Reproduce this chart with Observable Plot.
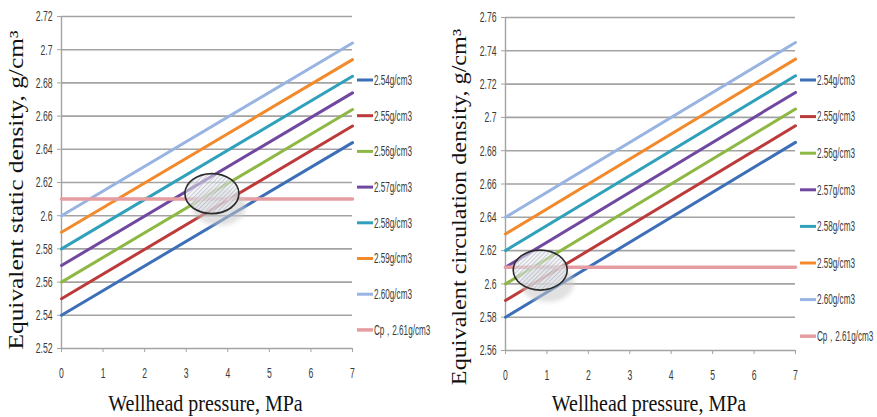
<!DOCTYPE html>
<html><head><meta charset="utf-8">
<script src="https://cdn.jsdelivr.net/npm/d3@7"></script>
<script src="https://cdn.jsdelivr.net/npm/@observablehq/plot@0.6"></script>
<style>
html,body{margin:0;padding:0;background:#fff;}
#wrap{position:relative;width:877px;height:417px;overflow:hidden;background:#fff;}
#left,#right{position:absolute;top:0;}
#left{left:0;}
#right{left:440px;}
</style></head><body>
<div id="wrap"><div id="left"></div><div id="right"></div></div>
<script>
// ---------- data ----------
const pressureEnds = [0, 7];
const seriesNames = ["2.54g/cm3", "2.55g/cm3", "2.56g/cm3", "2.57g/cm3", "2.58g/cm3", "2.59g/cm3", "2.60g/cm3"];
const seriesColors = ["#3d6fb8", "#bd3a3a", "#8db843", "#7048a0", "#30a0bb", "#f28a2c", "#98b4e2"];
const staticStart = [2.54, 2.55, 2.56, 2.57, 2.58, 2.59, 2.60];
const staticEnd = [2.644, 2.654, 2.664, 2.674, 2.684, 2.694, 2.704];
const circStart = [2.58, 2.59, 2.60, 2.61, 2.62, 2.63, 2.64];
const circEnd = [2.685, 2.695, 2.705, 2.715, 2.725, 2.735, 2.745];
const cpName = "Cp，2.61g/cm3";
const cpValue = 2.61;
const cpColor = "#e59da1";
const xTicks = [0, 1, 2, 3, 4, 5, 6, 7];
const yTicksStatic = [2.52, 2.54, 2.56, 2.58, 2.60, 2.62, 2.64, 2.66, 2.68, 2.70, 2.72];
const yTicksCirc = [2.56, 2.58, 2.60, 2.62, 2.64, 2.66, 2.68, 2.70, 2.72, 2.74, 2.76];
const xTitle = "Wellhead pressure, MPa";
const yTitleStatic = "Equivalent static density, g/cm³";
const yTitleCirc = "Equivalent circulation density, g/cm³";
const markStatic = [3.63, 2.613];   // highlighted intersection (MPa, g/cm3)
const markCirc = [0.85, 2.608];

const GRID = "#a3a3a3";
const TICKFONT = "'Liberation Sans Narrow', 'Arial Narrow', 'Liberation Sans', sans-serif";
const SERIF = "'Liberation Serif', 'Times New Roman', serif";

function rowsFor(start, end) {
  const rows = [];
  seriesNames.forEach((n, i) => {
    rows.push({name: n, p: pressureEnds[0], d: start[i]});
    rows.push({name: n, p: pressureEnds[1], d: end[i]});
  });
  return rows;
}
const cpRows = pressureEnds.map(p => ({name: cpName, p, d: cpValue}));

function fmt(d) { return String(+d.toFixed(2)); }

function ellipseMark(center, id) {
  return (index, scales, values, dims) => {
    const sx = scales.x, sy = scales.y;
    const cx = sx(center[0]), cy = sy(center[1]);
    const g = d3.create("svg:g");
    const defs = g.append("defs");
    const pat = defs.append("pattern").attr("id", id).attr("patternUnits", "userSpaceOnUse")
      .attr("width", 3).attr("height", 3).attr("patternTransform", "rotate(45)");
    pat.append("rect").attr("width", 3).attr("height", 3).attr("fill", "#e9ecf2").attr("fill-opacity", 0.55);
    pat.append("line").attr("x1", 0).attr("y1", 0).attr("x2", 0).attr("y2", 3)
      .attr("stroke", "#9aa0ad").attr("stroke-width", 1.2).attr("stroke-opacity", 0.8);
    const blur = defs.append("filter").attr("id", id + "b").attr("x", "-50%").attr("y", "-50%").attr("width", "200%").attr("height", "200%");
    blur.append("feGaussianBlur").attr("stdDeviation", 2);
    g.append("ellipse").attr("cx", cx + 7).attr("cy", cy + 13).attr("rx", 27).attr("ry", 19)
      .attr("fill", "#c8c8c8").attr("fill-opacity", 0.55).attr("filter", `url(#${id}b)`);
    g.append("ellipse").attr("cx", cx).attr("cy", cy).attr("rx", 27).attr("ry", 20)
      .attr("fill", `url(#${id})`).attr("stroke", "#2b2b2b").attr("stroke-width", 1.6);
    return g.node();
  };
}

function legendMark(x0, y0, step) {
  return () => {
    const g = d3.create("svg:g");
    const names = [...seriesNames, cpName];
    const colors = [...seriesColors, cpColor];
    names.forEach((n, i) => {
      const y = y0 + i * step;
      g.append("line").attr("x1", x0).attr("x2", x0 + 16).attr("y1", y).attr("y2", y)
        .attr("stroke", colors[i]).attr("stroke-width", i === names.length - 1 ? 3.5 : 3);
      g.append("text").attr("text-anchor", "start")
        .attr("transform", `translate(${x0 + 17},${y}) scale(0.74,1.25)`).attr("dy", "0.35em")
        .attr("font-family", TICKFONT).attr("font-size", 11).attr("fill", "#3a3a3a").text(n);
    });
    return g.node();
  };
}

function titlesMark(yTitle, yx, ycy, ystretch, xy) {
  return (index, scales, values, dims) => {
    const {width, marginLeft, marginRight} = dims;
    const g = d3.create("svg:g").attr("font-family", SERIF).attr("font-size", 20).attr("fill", "#111");
    g.append("text").attr("text-anchor", "middle")
      .attr("transform", `translate(${yx},${ycy}) rotate(-90) scale(${ystretch},1)`).text(yTitle);
    const cx = marginLeft + (width - marginLeft - marginRight) / 2 - 1;
    g.append("text").attr("text-anchor", "middle")
      .attr("transform", `translate(${cx},${xy}) scale(1,1.2)`).text(xTitle);
    return g.node();
  };
}

function condense(svg, sx, sy) {
  svg.querySelectorAll('g[aria-label$="tick label"] text').forEach(t => {
    let tr = t.getAttribute("transform");
    if (!tr) {
      const x = +(t.getAttribute("x") || 0), y = +(t.getAttribute("y") || 0);
      t.removeAttribute("x"); t.removeAttribute("y");
      tr = `translate(${x},${y})`;
    }
    t.setAttribute("transform", `${tr} scale(${sx},${sy})`);
  });
}

function panel(opts) {
  const {start, end, yTicks, yTitle, mark, id, width, ml, mr, mt, mb, yx, ycy, ystretch, legX, legY, legStep} = opts;
  const svg = Plot.plot({
    width, height: 417,
    marginLeft: ml, marginRight: mr, marginTop: mt, marginBottom: mb,
    style: {background: "white", fontFamily: TICKFONT, overflow: "visible"},
    x: {domain: pressureEnds, ticks: xTicks},
    y: {domain: [yTicks[0], yTicks[yTicks.length - 1]], ticks: yTicks},
    color: {domain: seriesNames, range: seriesColors},
    marks: [
      Plot.gridY(yTicks, {stroke: GRID, strokeOpacity: 1, strokeWidth: 1.6}),
      Plot.ruleX([0], {stroke: GRID, strokeWidth: 1.4}),
      Plot.axisY(yTicks, {tickSize: 4, tickPadding: 5, stroke: GRID, fontSize: 12, fill: "#3a3a3a", tickFormat: fmt, label: null, fontFamily: TICKFONT}),
      Plot.axisX(xTicks, {tickSize: 4, tickPadding: 15, stroke: GRID, fontSize: 12, fill: "#3a3a3a", tickFormat: d => String(d), label: null, fontFamily: TICKFONT}),
      Plot.line(rowsFor(start, end), {x: "p", y: "d", z: "name", stroke: "name", strokeWidth: 3}),
      Plot.line(cpRows, {x: "p", y: "d", stroke: cpColor, strokeWidth: 3.5}),
      ellipseMark(mark, id),
      legendMark(legX, legY, legStep),
      titlesMark(yTitle, yx, ycy, ystretch, 411)
    ]
  });
  condense(svg, 0.72, 1.25);
  return svg;
}

document.getElementById("left").append(panel({
  start: staticStart, end: staticEnd, yTicks: yTicksStatic, yTitle: yTitleStatic, mark: markStatic, id: "hatchL",
  width: 440, ml: 61, mr: 88, mt: 16, mb: 69, yx: 23, ycy: 190, ystretch: 1.27, legX: 357, legY: 80, legStep: 35.7
}));
document.getElementById("right").append(panel({
  start: circStart, end: circEnd, yTicks: yTicksCirc, yTitle: yTitleCirc, mark: markCirc, id: "hatchR",
  width: 437, ml: 65, mr: 82, mt: 17, mb: 67, yx: 26, ycy: 207, ystretch: 1.21, legX: 360, legY: 80, legStep: 36.6
}));
</script>
</body></html>
